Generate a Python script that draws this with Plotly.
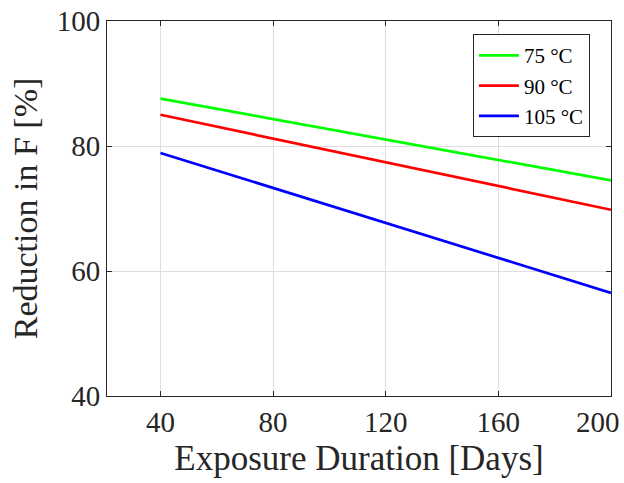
import plotly.graph_objects as go

days = [40, 200]
series_names = ["75 °C", "90 °C", "105 °C"]
reduction_75 = [87.6, 74.5]
reduction_90 = [85.0, 69.8]
reduction_105 = [78.9, 56.5]
colors = ["#00ff00", "#ff0000", "#0000ff"]
x_ticks = [40, 80, 120, 160, 200]
x_tick_labels = ["40", "80", "120", "160", "200"]
y_ticks = [40, 60, 80, 100]

fig = go.Figure()
for name, vals, c in zip(series_names, [reduction_75, reduction_90, reduction_105], colors):
    fig.add_trace(go.Scatter(x=days, y=vals, mode="lines", name=name,
                             line=dict(color=c, width=2.7)))

font_family = "Liberation Serif, Times New Roman, serif"
tick_font = dict(family=font_family, size=29, color="#262626")
axis_common = dict(
    showline=True, linecolor="#262626", linewidth=1, mirror="ticks",
    ticks="inside", ticklen=5, tickcolor="#262626",
    showgrid=True, gridcolor="#dedede", gridwidth=1, zeroline=False,
    tickfont=tick_font, automargin=False,
)
# last tick label is drawn as an annotation, nudged left to stay inside the figure
fig.update_xaxes(range=[21, 200.01], tickvals=x_ticks,
                 ticktext=x_tick_labels[:-1] + [""],
                 title=dict(text="Exposure Duration [Days]",
                            font=dict(family=font_family, size=35, color="#262626"),
                            standoff=8),
                 **axis_common)
fig.update_yaxes(range=[40, 100.01], tickvals=y_ticks,
                 title=dict(text="Reduction in F [%]",
                            font=dict(family=font_family, size=34, color="#262626"),
                            standoff=8),
                 **axis_common)
fig.add_annotation(x=x_ticks[-1], xref="x", y=0, yref="paper",
                   text=x_tick_labels[-1], showarrow=False,
                   xanchor="right", yanchor="middle", xshift=11, yshift=-26,
                   font=tick_font)

fig.update_layout(
    width=624, height=483,
    margin=dict(l=107, r=13, t=21, b=87),
    plot_bgcolor="white", paper_bgcolor="white",
    legend=dict(x=0.726, y=0.965, xanchor="left", yanchor="top",
                bordercolor="#262626", borderwidth=1, bgcolor="white",
                font=dict(family=font_family, size=21, color="#000000"),
                itemwidth=40, tracegroupgap=0),
    showlegend=True,
)

fig.write_html("out.html", config={"displayModeBar": False},
               post_script="document.body.style.margin='0';document.body.style.overflow='hidden';")
